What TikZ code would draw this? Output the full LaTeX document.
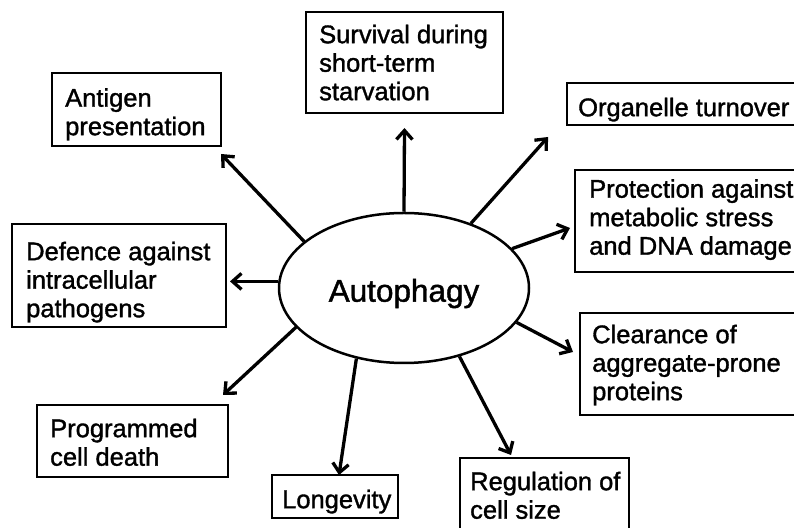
\documentclass[tikz,border=0pt]{standalone}
\usepackage{fontspec}
\setmainfont{Liberation Sans}
% slightly heavier regular face for all labels
\newfontfamily\lblfont{Liberation Sans}[FakeBold=1.3]
\usetikzlibrary{arrows.meta,shapes.geometric}
% fixed height for the first line of every label, so baselines are predictable
\newcommand{\lblstrut}{\rule{0pt}{20pt}}
\begin{document}
\begin{tikzpicture}[x=1pt,y=1pt,
  box/.style={draw, line width=1.8pt, inner sep=0pt, outer sep=0pt},
  lbl/.style={anchor=north west, inner sep=0pt, align=left,
    font=\lblfont\fontsize{25.5}{28.5}\selectfont},
  hub/.style={ellipse, draw, line width=2.5pt, minimum width=250pt,
    minimum height=150pt, inner sep=0pt,
    font=\lblfont\fontsize{31.5}{36}\selectfont, text height=34pt, text depth=6.6pt},
  ray/.style={line width=3.3pt, -{Straight Barb[length=9pt,width=16pt]}}
]
\clip (0,0) rectangle (794,527);
\fill[white] (0,0) rectangle (794,527);

% central process
\node[hub] (hub) at (404,239) {Autophagy};

% outcome boxes
\node[box, minimum width=197pt, minimum height=101pt] (surv) at (404.5,464.5) {};
\node[lbl] (survt) at ([shift={(13,-11)}]surv.north west)
  {\lblstrut Survival during\\short-term\\starvation};

\node[box, minimum width=169pt, minimum height=73pt] (ant) at (136.5,417.5) {};
\node[lbl] (antt) at ([shift={(13,-13.5)}]ant.north west)
  {\lblstrut Antigen\\presentation};

\node[box, minimum width=214pt, minimum height=103pt] (def) at (119,251.5) {};
\node[lbl] (deft) at ([shift={(14,-16)}]def.north west)
  {\lblstrut Defence against\\intracellular\\pathogens};

\node[box, minimum width=263pt, minimum height=42pt] (org) at (698.5,423) {};
\node[lbl] (orgt) at ([shift={(11,-13)}]org.north west)
  {\lblstrut Organelle turnover};

\node[box, minimum width=255pt, minimum height=102pt] (prot) at (702.5,306) {};
\node[lbl] (prott) at ([shift={(14,-7.5)}]prot.north west)
  {\lblstrut Protection against\\metabolic stress\\and DNA damage};

\node[box, minimum width=250pt, minimum height=102pt] (clr) at (705,163) {};
\node[lbl] (clrt) at ([shift={(12,-10)}]clr.north west)
  {\lblstrut Clearance of\\aggregate-prone\\proteins};

\node[box, minimum width=191pt, minimum height=72pt] (prog) at (132.5,86) {};
\node[lbl] (progt) at ([shift={(13,-12)}]prog.north west)
  {\lblstrut Programmed\\cell death};

\node[box, minimum width=126pt, minimum height=43pt] (long) at (335,30.5) {};
\node[lbl] (longt) at ([shift={(10,-13)}]long.north west)
  {\lblstrut Longevity};

\node[box, minimum width=169pt, minimum height=109pt] (reg) at (544.5,14.5) {};
\node[lbl] (regt) at ([shift={(10,-12)}]reg.north west)
  {\lblstrut Regulation of\\cell size};

% arrows radiating from the hub
\draw[ray] (hub.north) -- ([shift={(0,-15)}]surv.south);
\draw[ray] (hub.155.5) -- ([shift={(0,-8)}]ant.south east);
\draw[ray] (hub.177) -- ([shift={(4,0)}]hub.177 -| def.east);
\draw[ray] (hub.200) -- ([shift={(-5,10)}]prog.north east);
\draw[ray] (hub.236) -- ([shift={(4,0)}]long.north);
\draw[ray] (hub.309) -- ([shift={(51,3)}]reg.north west);
\draw[ray] (hub.343) -- ([shift={(-7,12)}]clr.west);
\draw[ray] (hub.20.3) -- ([shift={(-5,-7)}]prot.west);
\draw[ray] (hub.44.6) -- ([shift={(-19,-12)}]org.south west);
\end{tikzpicture}
\end{document}
